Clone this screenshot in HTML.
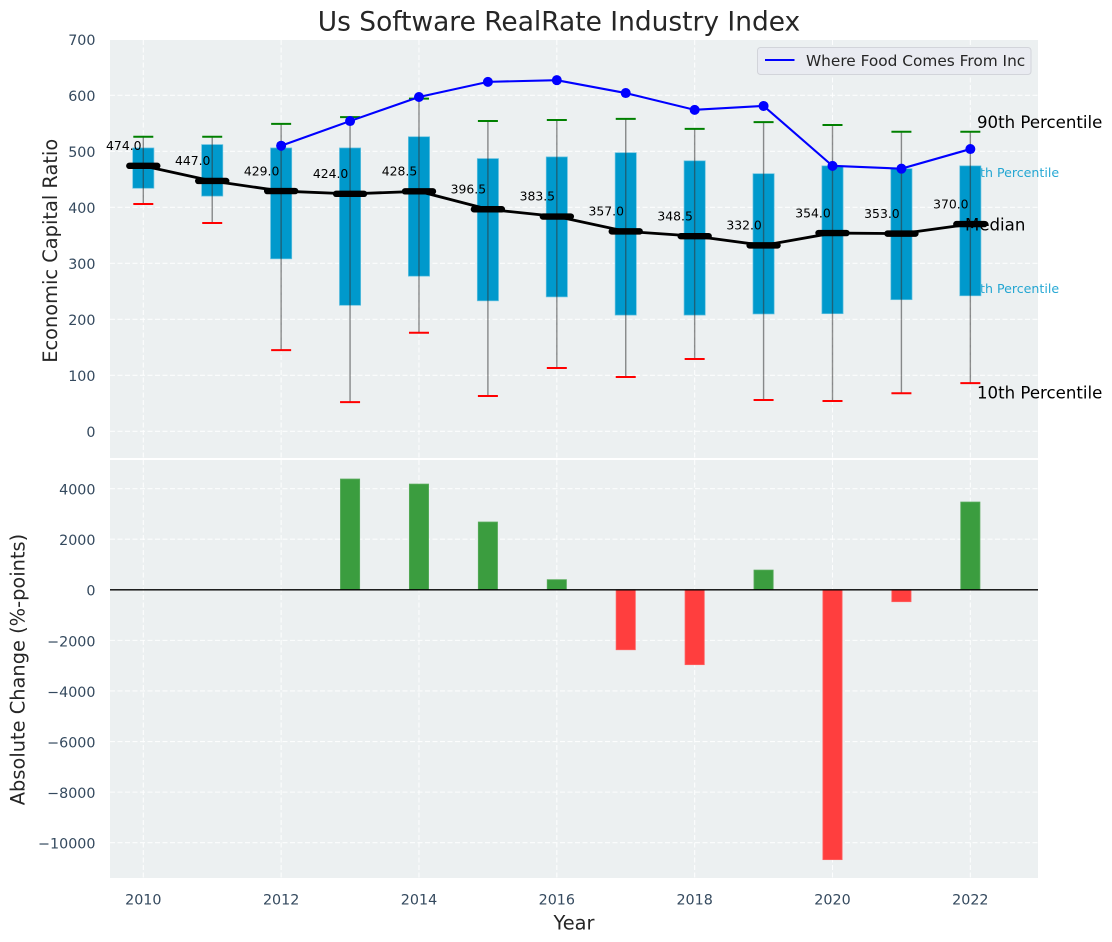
<!DOCTYPE html>
<html>
<head>
<meta charset="utf-8">
<title>Us Software RealRate Industry Index</title>
<style>
html,body{margin:0;padding:0;background:#fff;}
svg{display:block;}
text{font-family:"DejaVu Sans","Liberation Sans",sans-serif;}
</style>
</head>
<body>
<svg id="chart" xmlns="http://www.w3.org/2000/svg" width="1112" height="942" viewBox="0 0 1112 942"></svg>
<script>
const years = [2010,2011,2012,2013,2014,2015,2016,2017,2018,2019,2020,2021,2022];
const p90 = [526,526,549,561,594,554,556,558,540,552,547,535,535];
const p75 = [506,512,506,506,526,487,490,497.5,483,460,474,469,474];
const median = [474,447,429,424,428.5,396.5,383.5,357,348.5,332,354,353,370];
const p25 = [434,420,308,225,277,233,240,207.5,207.5,209.5,210,235,242];
const p10 = [406,372,145,52,176,63,113,97,129,56,54,68,86];
const company = [null,null,510,554,597,624,627,604,574,581,474,469,504];
const absChange = [null,null,null,4380,4180,2680,400,-2370,-2960,780,-10670,-470,3470];
const xTicks = [2010,2012,2014,2016,2018,2020,2022];
const yTicksTop = [0,100,200,300,400,500,600,700];
const yTicksBottom = [-10000,-8000,-6000,-4000,-2000,0,2000,4000];

const svg = document.getElementById('chart');
const NS = 'http://www.w3.org/2000/svg';
const AX = {l:110, r:1038, t1:40, b1:458, t2:460, b2:878};
function X(v){ return 143.3 + (v - 2010) * 68.92; }
function Y1(v){ return 431.3 - v * 0.56; }
function Y2(v){ return 589.8 - v * 0.02529; }

function make(tag, props, text){
  const el = document.createElementNS(NS, tag);
  for (const k in props) el.setAttribute(k, props[k]);
  if (text !== undefined) el.textContent = text;
  svg.appendChild(el);
  return el;
}
function rect(x,y,w,h,fill,extra){ return make('rect', Object.assign({x:x,y:y,width:w,height:h,fill:fill}, extra||{})); }
function line(x1,y1,x2,y2,stroke,sw,extra){ return make('line', Object.assign({x1:x1,y1:y1,x2:x2,y2:y2,stroke:stroke,'stroke-width':sw}, extra||{})); }
function text(x,y,s,size,fill,extra){ return make('text', Object.assign({x:x,y:y,'font-size':size,fill:fill}, extra||{}), s); }

let el;
const tickColor = '#34495e';
const gridStyle = {'stroke-dasharray':'5 2.5','stroke-opacity':'0.85'};

el = rect(AX.l, AX.t1, AX.r-AX.l, AX.b1-AX.t1, '#ecf0f1');


el = rect(AX.l, AX.t2, AX.r-AX.l, AX.b2-AX.t2, '#ecf0f1');



/* grid */
yTicksTop.forEach(function(v){
  if (v === 700) return;
  el = line(AX.l, Y1(v), AX.r, Y1(v), '#fff', 1.1, gridStyle);
  
  
});
yTicksBottom.forEach(function(v){
  el = line(AX.l, Y2(v), AX.r, Y2(v), '#fff', 1.1, gridStyle);
  
  
});
xTicks.forEach(function(v){
  el = line(X(v), AX.t1, X(v), AX.b1, '#fff', 1.1, gridStyle);
  
  
  el = line(X(v), AX.t2, X(v), AX.b2, '#fff', 1.1, gridStyle);
  
  
});

/* tick labels */
yTicksTop.forEach(function(v){
  el = text(95.5, Y1(v)+5.8, String(v), 14.3, tickColor, {'text-anchor':'end'});
  
  
});
yTicksBottom.forEach(function(v){
  el = text(95.5, Y2(v)+5.9, String(v).replace('-', '\u2212'), 14.3, tickColor, {'text-anchor':'end'});
  
  
});
xTicks.forEach(function(v){
  el = text(X(v), 904.6, String(v), 14.3, tickColor, {'text-anchor':'middle'});
  
  
});

/* annotations drawn behind the boxes */
el = text(964, 177.2, '75th Percentile', 12.6, '#0099cc', {'fill-opacity':'0.85'});


el = text(964, 293.2, '25th Percentile', 12.6, '#0099cc', {'fill-opacity':'0.85'});



/* bars on the lower panel */
years.forEach(function(y,i){
  const v = absChange[i];
  if (v === null) return;
  const top = v >= 0 ? Y2(v) : Y2(0);
  const h = Math.abs(Y2(v) - Y2(0));
  el = rect(X(y)-9.6, top, 19.2, h, v >= 0 ? '#3b9d3f' : '#ff3e3e', {stroke: v >= 0 ? '#58ab5b' : '#ff6060', 'stroke-width':0.8});
  
  
});
el = line(AX.l, Y2(0), AX.r, Y2(0), '#000', 1.3);



/* boxes */
years.forEach(function(y,i){
  el = rect(X(y)-10.6, Y1(p75[i]), 21.2, Y1(p25[i])-Y1(p75[i]), '#0099cc', {stroke:'#66c2e0','stroke-width':0.7});
  
  
});
/* whiskers */
years.forEach(function(y,i){
  el = line(X(y), Y1(p90[i]), X(y), Y1(p10[i]), '#333', 1.4, {'stroke-opacity':'0.55'});
  
  
  el = line(X(y)-10, Y1(p90[i]), X(y)+10, Y1(p90[i]), '#008000', 2);
  
  
  el = line(X(y)-10, Y1(p10[i]), X(y)+10, Y1(p10[i]), '#ff0000', 2);
  
  
});

/* median line */
el = make('polyline', {points: years.map(function(y,i){ return X(y)+','+Y1(median[i]); }).join(' '), fill:'none', stroke:'#000', 'stroke-width':2.8});


years.forEach(function(y,i){
  el = line(X(y)-14, Y1(median[i]), X(y)+14, Y1(median[i]), '#000', 6.4, {'stroke-linecap':'round'});
  
  
  el = text(X(y)-19.5, Y1(median[i])-15.8, median[i].toFixed(1), 12.4, '#000', {'text-anchor':'middle'});
  
  
});

/* company line */
const pts = [];
years.forEach(function(y,i){ if (company[i] !== null) pts.push(X(y)+','+Y1(company[i])); });
el = make('polyline', {points: pts.join(' '), fill:'none', stroke:'#0000ff', 'stroke-width':2.1});


years.forEach(function(y,i){
  if (company[i] === null) return;
  el = make('circle', {cx:X(y), cy:Y1(company[i]), r:5, fill:'#0000ff'});
  
  
});

/* percentile annotations */
el = text(977, 128, '90th Percentile', 16.6, '#000');


el = text(965, 230.5, 'Median', 16.6, '#000');


el = text(977, 398.5, '10th Percentile', 16.6, '#000');



/* legend */
el = rect(757.5, 47.5, 273.5, 27, '#e9ebf1', {rx:3, stroke:'#d2d4da', 'stroke-width':1});


el = line(765, 60, 794.5, 60, '#0000ff', 2);


el = text(806, 66, 'Where Food Comes From Inc', 15.35, '#262626');



/* titles */
el = text(559, 30.5, 'Us Software RealRate Industry Index', 26.45, '#262626', {'text-anchor':'middle'});


el = text(574, 929.3, 'Year', 19.4, '#262626', {'text-anchor':'middle'});


el = text(0, 0, 'Economic Capital Ratio', 19.4, '#262626', {'text-anchor':'middle', transform:'translate(57 250.8) rotate(-90)'});


el = text(0, 0, 'Absolute Change (%-points)', 19.4, '#262626', {'text-anchor':'middle', transform:'translate(24.5 669.5) rotate(-90)'});


</script>
</body>
</html>
